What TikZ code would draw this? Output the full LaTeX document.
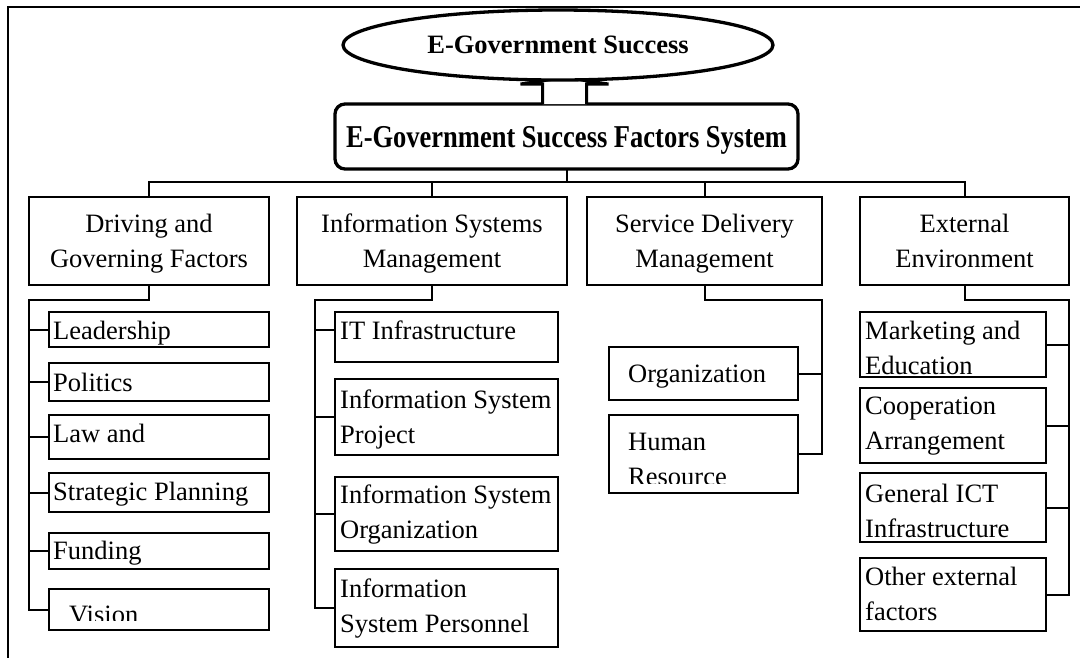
\documentclass[tikz,border=0pt]{standalone}
\usepackage{fontspec}
\setmainfont{Liberation Serif}
\usetikzlibrary{shapes.geometric,fit}

\tikzset{
  cell/.style={draw, line width=2pt, inner sep=0pt, outer sep=0pt},
  head/.style={cell, minimum height=88pt},
  txt/.style={inner sep=0pt, align=left, font=\fontsize{26.5}{35}\selectfont},
  link/.style={line width=2pt},
}

\begin{document}
\begin{tikzpicture}[x=1pt, y=-1pt]
\useasboundingbox (0,0) rectangle (1080,657);
\clip (0,0) rectangle (1080,657);
% frame
\draw[line width=2pt] (1090,7.3) -- (8.3,7.3) -- (8.3,670);

% system, arrow and goal
\node[draw, rounded corners=10pt, line width=3.3pt, minimum width=463pt, minimum height=65pt,
  inner sep=0pt, outer sep=0pt, text depth=0pt, font=\fontsize{26.5}{30}\selectfont\bfseries] (sys) at (566.5,136.5)
  {\scalebox{1}[1.2]{E-Government Success Factors System}};
\draw[line width=3pt, fill=white] ([xshift=-24pt]sys.north) -- ++(0,-20) -- ++(-22,0) -- ++(44,-6.5)
  -- ++(44,6.5) -- ++(-22,0) -- ++(0,20);
\node[ellipse, draw, line width=3.3pt, fill=white, minimum width=430pt, minimum height=70pt,
  inner sep=0pt, outer sep=0pt, font=\fontsize{26.5}{30}\selectfont\bfseries] (goal) at (558,45) {E-Government Success};

% four groups
\node[head, minimum width=240pt] (drv) at (149,241) {};
\node[head, minimum width=270pt] (ism) at (432,241) {};
\node[head, minimum width=235pt] (sdm) at (704.5,241) {};
\node[head, minimum width=209pt] (ext) at (964.5,241) {};
\node[txt, align=center, anchor=north] at (149,214) {Driving and\\Governing Factors};
\node[txt, align=center, anchor=north] at (432,214) {Information Systems\\Management};
\node[txt, align=center, anchor=north] at (704.5,214) {Service Delivery\\Management};
\node[txt, align=center, anchor=north] at (964.5,214) {External\\Environment};

\coordinate (bus) at (566.5,182);
\draw[link] (sys.south) -- (bus);
\foreach \n in {drv,ism,sdm,ext}
  \draw[link] (bus) -| (\n.north);

% driving and governing factors
\node[cell, fit={(49,312) (269,347)}] (lead) {};
\node[cell, fit={(49,363) (269,401)}] (pol) {};
\node[cell, fit={(49,415) (269,459)}] (law) {};
\node[cell, fit={(49,473) (269,512)}] (strat) {};
\node[cell, fit={(49,533) (269,569)}] (fund) {};
\node[cell, fit={(49,589) (269,630)}] (vis) {};
\node[txt, anchor=base west] at (53,339) {Leadership};
\node[txt, anchor=base west] at (53,391) {Politics};
\node[txt, anchor=base west] at (53,442) {Law and};
\node[txt, anchor=base west] at (53,500) {Strategic Planning};
\node[txt, anchor=base west] at (53,559) {Funding};
\begin{scope}
  \clip (vis.north west) rectangle ([yshift=10pt]vis.south east);
  \node[txt, anchor=base west] at (69,623) {Vision};
\end{scope}
\coordinate (drvb) at (29,300);
\draw[link] (drv.south) |- (drvb) |- (vis.west);
\foreach \n in {lead,pol,law,strat,fund}
  \draw[link] (drvb |- \n.west) -- (\n.west);

% information systems management
\node[cell, fit={(335,312) (558,362)}] (itinf) {};
\node[cell, fit={(335,379) (558,455)}] (isproj) {};
\node[cell, fit={(335,477) (558,551)}] (isorg) {};
\node[cell, fit={(335,569) (558,647)}] (ispers) {};
\node[txt, anchor=base west] at (340,339) {IT Infrastructure};
\node[txt, anchor=north west] at (340,390) {Information System\\Project};
\node[txt, anchor=north west] at (340,485) {Information System\\Organization};
\node[txt, anchor=north west] at (340,579) {Information\\System Personnel};
\coordinate (ismb) at (315,300);
\coordinate (itinfw) at ([yshift=7pt]itinf.west);
\draw[link] (ism.south) |- (ismb) |- (ispers.west);
\draw[link] (ismb |- itinfw) -- (itinfw);
\foreach \n in {isproj,isorg}
  \draw[link] (ismb |- \n.west) -- (\n.west);

% service delivery management
\node[cell, fit={(609,347) (798,400)}] (org) {};
\node[cell, fit={(609,415) (798,493)}] (hr) {};
\node[txt, anchor=base west] at (628,382) {Organization};
\begin{scope}
  \clip (hr.north west) rectangle ([yshift=10pt]hr.south east);
  \node[txt, anchor=north west] at (628,433) {Human\\Resource};
\end{scope}
\coordinate (sdmb) at (822,300);
\draw[link] (sdm.south) |- (sdmb) |- (hr.east);
\draw[link] (sdmb |- org.east) -- (org.east);

% external environment
\node[cell, fit={(860,312) (1046,377)}] (mkt) {};
\node[cell, fit={(860,388) (1046,463)}] (coop) {};
\node[cell, fit={(860,473) (1046,542)}] (ict) {};
\node[cell, fit={(860,558) (1046,631)}] (oth) {};
\node[txt, anchor=north west] at (865,321) {Marketing and\\Education};
\node[txt, anchor=north west] at (865,397) {Cooperation\\Arrangement};
\node[txt, anchor=north west] at (865,484) {General ICT\\Infrastructure};
\node[txt, anchor=north west] at (865,567) {Other external\\factors};
\coordinate (extb) at (1069,300);
\draw[link] (ext.south) |- (extb) |- (oth.east);
\foreach \n in {mkt,coop,ict}
  \draw[link] (extb |- \n.east) -- (\n.east);
\end{tikzpicture}
\end{document}
